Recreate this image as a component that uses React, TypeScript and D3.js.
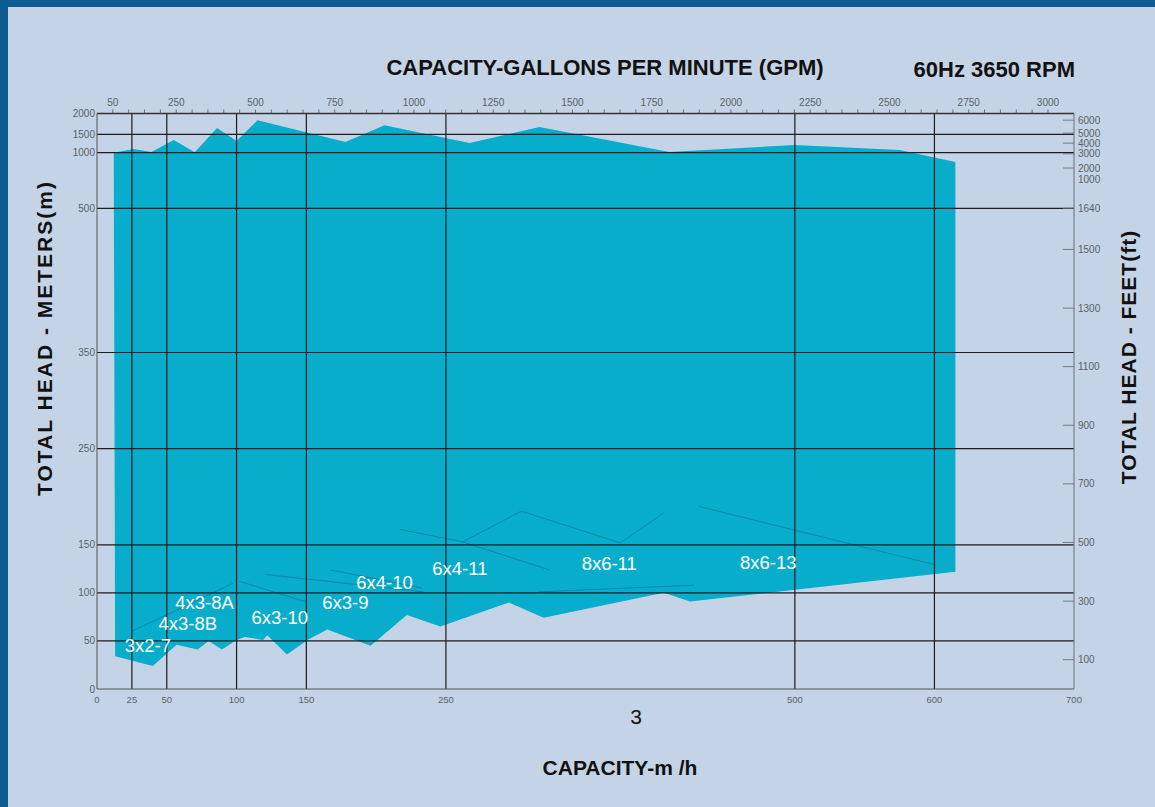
import { scaleLinear, line, range } from "d3";

const W = 1155;
const H = 807;

// capacity (m3/h) and head (m) along the upper edge of the coverage area
const Q_TOP = [12, 26, 39, 55, 70, 86, 100, 115, 178, 206, 267, 317, 410, 500, 575, 615];
const H_TOP = [1000, 1100, 1020, 1345, 1010, 1650, 1320, 1840, 1290, 1720, 1265, 1675, 1020, 1210, 1075, 916];

// lower edge, left to right
const Q_BOTTOM = [13, 40, 57, 72, 80, 89.5, 100, 106, 119, 122, 136, 152, 165, 196, 222, 246, 295, 320, 406, 425, 615];
const H_BOTTOM = [34, 24, 46, 41, 50, 41, 51, 54, 51, 56, 36, 52, 62, 45, 77, 65, 90, 74, 100, 91, 122];

// faint boundaries between pump models
const DIVIDERS: { q: number[]; h: number[] }[] = [
  { q: [25, 97.5], h: [60, 110] },
  { q: [102, 149], h: [112, 91] },
  { q: [121.5, 234], h: [119, 101] },
  { q: [167, 233], h: [124, 105] },
  { q: [217, 262, 324], h: [166, 153, 124] },
  { q: [262, 304, 375], h: [153, 185, 152] },
  { q: [375, 406], h: [152, 183] },
  { q: [431, 601], h: [190, 129] },
  { q: [316, 428], h: [101, 108] },
];

const MODELS = ["3x2-7", "4x3-8B", "4x3-8A", "6x3-10", "6x3-9", "6x4-10", "6x4-11", "8x6-11", "8x6-13"];
const MODEL_Q = [36.5, 65, 77, 131, 178, 206, 260, 367, 481];
const MODEL_H = [45, 68, 90, 74, 90, 111, 125, 131, 132];

const X_GRID = [25, 50, 100, 150, 250, 500, 600];
const X_LABELS = [0, 25, 50, 100, 150, 250, 500, 600, 700];
const Y_GRID = [50, 100, 150, 250, 350, 500, 1000, 1500];
const Y_LABELS = [0, 50, 100, 150, 250, 350, 500, 1000, 1500, 2000];
const GPM_LABELS = [50, 250, 500, 750, 1000, 1250, 1500, 1750, 2000, 2250, 2500, 2750, 3000];
const GPM_PER_M3H = 4.403;

// right axis labels (feet) and where they sit on the metre scale
const FT_LABELS = ["100", "300", "500", "700", "900", "1100", "1300", "1500", "1640", "1000", "2000", "3000", "4000", "5000", "6000"];
const FT_AT_M = [30.5, 91.4, 152.4, 213.4, 274.3, 335.3, 396.2, 457.2, 500, 755, 862, 990, 1260, 1530, 1840];

const BG = "#c4d4e6";
const FILL = "#08adcb";
const TICK_TEXT = "#5a5f66";

export default function App() {
  const x = scaleLinear().domain([0, 700]).range([97, 1074]);
  // the head axis is linear to 500 m and squeezed above it
  const y = scaleLinear()
    .domain([0, 500, 1000, 1500, 2000])
    .range([689, 208.3, 152.7, 134.3, 113.5]);
  const gpmX = (g: number) => x(g / GPM_PER_M3H);

  const outline = [
    ...Q_TOP.map((q, i) => [q, H_TOP[i]]),
    ...Q_BOTTOM.map((q, i) => [q, H_BOTTOM[i]]).reverse(),
  ] as [number, number][];
  const path = line<[number, number]>()
    .x(d => x(d[0]))
    .y(d => y(d[1]))(outline) ?? "";

  const divLine = line<[number, number]>()
    .x(d => x(d[0]))
    .y(d => y(d[1]));

  const top = y(2000);
  const bottom = y(0);
  const left = x(0);
  const right = x(700);
  const minorGpm = range(50, 3050, 50);

  const sans = "'Liberation Sans', Arial, sans-serif";

  return (
    <svg
      width={W}
      height={H}
      style={{ position: "absolute", left: 0, top: 0, display: "block" }}
      fontFamily={sans}
    >
      <rect width={W} height={H} fill={BG} />
      <rect width={W} height={7} fill="#0e5b93" />
      <rect width={8} height={H} fill="#0e5b93" />

      {/* coverage area */}
      <path d={path} fill={FILL} />
      {DIVIDERS.map((d, i) => (
        <path
          key={i}
          d={divLine(d.q.map((q, j) => [q, d.h[j]]) as [number, number][]) ?? ""}
          fill="none"
          stroke="#0b819c"
          strokeWidth={0.9}
        />
      ))}

      {/* grid */}
      {X_GRID.map(v => (
        <line key={v} x1={x(v)} x2={x(v)} y1={top} y2={bottom} stroke="#1c1c1c" strokeWidth={1.2} />
      ))}
      {Y_GRID.map(v => (
        <line key={v} x1={left} x2={right} y1={y(v)} y2={y(v)} stroke="#1c1c1c" strokeWidth={1.2} />
      ))}
      <line x1={left} x2={right} y1={top} y2={top} stroke="#333" strokeWidth={1.3} />
      <line x1={left} x2={left} y1={top} y2={bottom} stroke="#555" strokeWidth={1} />
      <line x1={left} x2={right} y1={bottom} y2={bottom} stroke="#555" strokeWidth={1.2} />
      <line x1={right} x2={right} y1={top} y2={bottom} stroke="#6a7078" strokeWidth={1} />

      {/* top GPM axis */}
      {minorGpm.map(g => (
        <line key={g} x1={gpmX(g)} x2={gpmX(g)} y1={top} y2={top - 4} stroke="#555" strokeWidth={0.8} />
      ))}
      {GPM_LABELS.map(g => (
        <text key={g} x={gpmX(g)} y={top - 8} textAnchor="middle" fontSize={10} fill={TICK_TEXT}>
          {g}
        </text>
      ))}

      {/* left metres axis */}
      {Y_LABELS.map(v => (
        <text key={v} x={left - 2} y={y(v)} dy="0.35em" textAnchor="end" fontSize={10} fill={TICK_TEXT}>
          {v}
        </text>
      ))}

      {/* bottom m3/h axis */}
      {X_LABELS.map(v => (
        <text key={v} x={x(v)} y={bottom + 14} textAnchor="middle" fontSize={9.5} fill={TICK_TEXT}>
          {v}
        </text>
      ))}

      {/* right feet axis */}
      {FT_LABELS.map((t, i) => (
        <g key={i} transform={`translate(${right},${y(FT_AT_M[i])})`}>
          {t !== "1000" && <line x1={-11} x2={0} stroke="#6a7078" strokeWidth={0.9} />}
          <text x={4} dy="0.35em" fontSize={10} fill={TICK_TEXT}>
            {t}
          </text>
        </g>
      ))}

      {/* model labels */}
      {MODELS.map((m, i) => (
        <text
          key={m}
          x={x(MODEL_Q[i])}
          y={y(MODEL_H[i])}
          dy="0.35em"
          textAnchor="middle"
          fontSize={18.5}
          fill="#ffffff"
        >
          {m}
        </text>
      ))}

      {/* titles */}
      <text x={605} y={75} textAnchor="middle" fontSize={22} fontWeight="bold" fill="#111">
        CAPACITY-GALLONS PER MINUTE (GPM)
      </text>
      <text x={1075} y={77} textAnchor="end" fontSize={22} fontWeight="bold" fill="#111">
        60Hz 3650 RPM
      </text>
      <text
        transform="translate(52,338) rotate(-90)"
        textAnchor="middle"
        fontSize={21}
        fontWeight="bold"
        letterSpacing={2}
        fill="#111"
      >
        TOTAL HEAD - METERS(m)
      </text>
      <text
        transform="translate(1136,357) rotate(-90)"
        textAnchor="middle"
        fontSize={21}
        fontWeight="bold"
        letterSpacing={1}
        fill="#111"
      >
        TOTAL HEAD - FEET(ft)
      </text>
      <text x={636} y={724} textAnchor="middle" fontSize={21} fill="#111">
        3
      </text>
      <text x={620} y={775} textAnchor="middle" fontSize={21} fontWeight="bold" fill="#111">
        CAPACITY-m /h
      </text>
    </svg>
  );
}
